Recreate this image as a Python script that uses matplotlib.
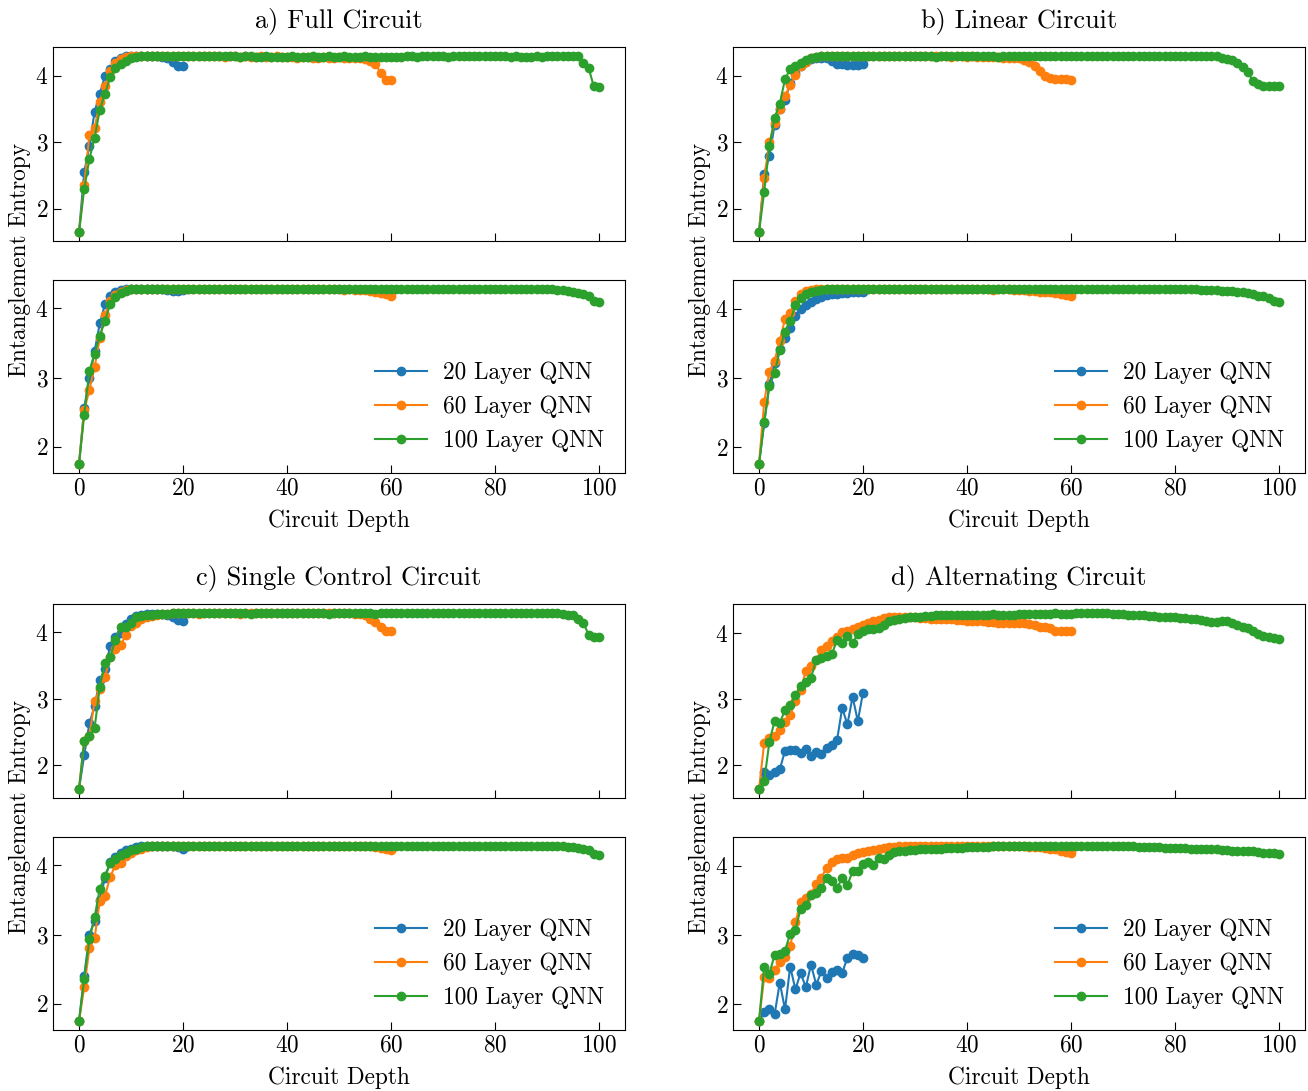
"""Entanglement entropy vs circuit depth for four QNN circuit layouts."""
import matplotlib
matplotlib.use("Agg")
import matplotlib.pyplot as plt
import numpy as np

plt.rcParams["font.family"] = "cmr10"
plt.rcParams["mathtext.fontset"] = "cm"
plt.rcParams["axes.formatter.use_mathtext"] = True
FS = 16.8
FS_TITLE = 19.0

# ── Data: a) Full Circuit ───────────────────────────────────────────────────
FULL_TOP_20 = [1.65, 2.55, 2.95, 3.46, 3.73, 4.00, 4.10, 4.22, 4.27, 4.29,
               4.29, 4.30, 4.29, 4.30, 4.29, 4.29, 4.28, 4.27, 4.21, 4.15, 4.15]
FULL_TOP_60 = [1.65, 2.36, 3.11, 3.21, 3.61, 3.85, 4.07, 4.19, 4.25, 4.28,
               4.29, 4.30, 4.29, 4.30, 4.30, 4.29, 4.30, 4.29, 4.29, 4.30,
               4.29, 4.30, 4.29, 4.29, 4.30, 4.29, 4.30, 4.29, 4.28, 4.29,
               4.29, 4.28, 4.29, 4.28, 4.28, 4.29, 4.28, 4.28, 4.29, 4.28,
               4.28, 4.28, 4.27, 4.28, 4.28, 4.27, 4.27, 4.28, 4.27, 4.27,
               4.28, 4.27, 4.27, 4.26, 4.26, 4.25, 4.22, 4.18, 4.04, 3.94, 3.93]
FULL_TOP_100 = [1.65, 2.30, 2.75, 3.07, 3.49, 3.73, 3.98, 4.11, 4.18, 4.22,
                4.26, 4.28, 4.29, 4.29, 4.30, 4.29, 4.29, 4.30, 4.29, 4.29,
                4.29, 4.29, 4.30, 4.29, 4.29, 4.29, 4.30, 4.29, 4.30, 4.29,
                4.29, 4.28, 4.29, 4.29, 4.28, 4.28, 4.29, 4.28, 4.28, 4.28,
                4.28, 4.29, 4.28, 4.28, 4.28, 4.29, 4.28, 4.28, 4.29, 4.28,
                4.28, 4.29, 4.28, 4.28, 4.28, 4.29, 4.28, 4.28, 4.28, 4.28,
                4.28, 4.28, 4.28, 4.29, 4.29, 4.28, 4.29, 4.29, 4.29, 4.29,
                4.29, 4.28, 4.29, 4.29, 4.29, 4.29, 4.29, 4.30, 4.29, 4.29,
                4.29, 4.29, 4.29, 4.28, 4.29, 4.28, 4.28, 4.28, 4.29, 4.28,
                4.29, 4.29, 4.29, 4.29, 4.29, 4.29, 4.29, 4.19, 4.12, 3.84, 3.83]
FULL_BOT_20 = [1.75, 2.56, 2.99, 3.38, 3.78, 4.06, 4.17, 4.24, 4.26, 4.27,
               4.28, 4.28, 4.27, 4.28, 4.28, 4.27, 4.27, 4.26, 4.25, 4.25, 4.26]
FULL_BOT_60 = [1.75, 2.53, 2.82, 3.15, 3.57, 3.90, 4.10, 4.19, 4.24, 4.26,
               4.27, 4.28, 4.28, 4.28, 4.27, 4.28, 4.28, 4.27, 4.28, 4.28,
               4.27, 4.28, 4.28, 4.28, 4.28, 4.27, 4.28, 4.28, 4.28, 4.27,
               4.28, 4.28, 4.27, 4.28, 4.27, 4.27, 4.28, 4.27, 4.27, 4.28,
               4.27, 4.27, 4.28, 4.27, 4.27, 4.27, 4.27, 4.28, 4.27, 4.27,
               4.27, 4.26, 4.27, 4.26, 4.26, 4.26, 4.25, 4.24, 4.22, 4.20, 4.18]
FULL_BOT_100 = [1.75, 2.46, 3.10, 3.34, 3.60, 3.82, 4.06, 4.16, 4.22, 4.25,
                4.27, 4.27, 4.28, 4.28, 4.28, 4.28, 4.28, 4.28, 4.27, 4.28,
                4.28, 4.28, 4.28, 4.27, 4.28, 4.28, 4.28, 4.28, 4.28, 4.28,
                4.28, 4.28, 4.27, 4.28, 4.28, 4.28, 4.28, 4.28, 4.27, 4.28,
                4.28, 4.28, 4.28, 4.28, 4.28, 4.27, 4.28, 4.28, 4.28, 4.28,
                4.28, 4.28, 4.28, 4.28, 4.27, 4.28, 4.28, 4.28, 4.28, 4.27,
                4.27, 4.28, 4.28, 4.28, 4.28, 4.28, 4.28, 4.28, 4.28, 4.28,
                4.28, 4.28, 4.28, 4.27, 4.28, 4.28, 4.28, 4.28, 4.28, 4.28,
                4.28, 4.28, 4.28, 4.28, 4.28, 4.28, 4.27, 4.28, 4.28, 4.27,
                4.27, 4.27, 4.26, 4.26, 4.25, 4.24, 4.22, 4.20, 4.17, 4.11, 4.09]

# ── Data: b) Linear Circuit ─────────────────────────────────────────────────
LIN_TOP_20 = [1.65, 2.52, 2.80, 3.26, 3.50, 3.63, 3.89, 4.04, 4.15, 4.21,
              4.25, 4.27, 4.27, 4.26, 4.22, 4.18, 4.17, 4.16, 4.16, 4.16, 4.17]
LIN_TOP_60 = [1.65, 2.46, 3.00, 3.29, 3.50, 3.70, 3.86, 4.01, 4.14, 4.21,
              4.26, 4.28, 4.29, 4.30, 4.30, 4.29, 4.30, 4.30, 4.29, 4.30,
              4.29, 4.30, 4.29, 4.30, 4.29, 4.29, 4.30, 4.29, 4.29, 4.30,
              4.29, 4.29, 4.29, 4.30, 4.29, 4.29, 4.29, 4.28, 4.29, 4.29,
              4.28, 4.29, 4.28, 4.28, 4.28, 4.28, 4.28, 4.27, 4.27, 4.27,
              4.27, 4.24, 4.20, 4.15, 4.07, 3.99, 3.96, 3.95, 3.95, 3.95, 3.94]
LIN_TOP_100 = [1.65, 2.26, 2.94, 3.37, 3.58, 3.95, 4.10, 4.15, 4.19, 4.23,
               4.26, 4.28, 4.29, 4.29, 4.30, 4.29, 4.30, 4.29, 4.29, 4.30,
               4.29, 4.29, 4.30, 4.29, 4.29, 4.29, 4.29, 4.30, 4.29, 4.29,
               4.29, 4.29, 4.29, 4.29, 4.28, 4.29, 4.29, 4.29, 4.29, 4.29,
               4.29, 4.29, 4.29, 4.29, 4.29, 4.29, 4.28, 4.29, 4.29, 4.29,
               4.29, 4.29, 4.29, 4.29, 4.29, 4.29, 4.30, 4.29, 4.29, 4.29,
               4.29, 4.29, 4.29, 4.29, 4.29, 4.29, 4.29, 4.29, 4.29, 4.29,
               4.29, 4.29, 4.29, 4.29, 4.29, 4.29, 4.29, 4.29, 4.29, 4.29,
               4.29, 4.30, 4.29, 4.29, 4.29, 4.30, 4.29, 4.29, 4.29, 4.27,
               4.25, 4.23, 4.19, 4.13, 4.06, 3.92, 3.87, 3.85, 3.84, 3.84, 3.84]
LIN_BOT_20 = [1.75, 2.35, 2.91, 3.22, 3.42, 3.58, 3.72, 3.89, 4.00, 4.05,
              4.10, 4.14, 4.17, 4.20, 4.22, 4.22, 4.23, 4.23, 4.24, 4.24, 4.24]
LIN_BOT_60 = [1.75, 2.65, 3.09, 3.25, 3.54, 3.85, 3.94, 4.11, 4.22, 4.26,
              4.27, 4.28, 4.28, 4.28, 4.28, 4.28, 4.29, 4.28, 4.28, 4.28,
              4.28, 4.28, 4.29, 4.28, 4.28, 4.28, 4.28, 4.29, 4.28, 4.28,
              4.28, 4.29, 4.28, 4.28, 4.28, 4.28, 4.28, 4.28, 4.29, 4.28,
              4.28, 4.28, 4.28, 4.28, 4.28, 4.27, 4.28, 4.28, 4.28, 4.27,
              4.27, 4.27, 4.26, 4.26, 4.25, 4.25, 4.24, 4.23, 4.22, 4.20, 4.18]
LIN_BOT_100 = [1.75, 2.36, 2.88, 3.07, 3.40, 3.67, 3.82, 4.05, 4.16, 4.21,
               4.24, 4.26, 4.27, 4.28, 4.28, 4.28, 4.28, 4.28, 4.28, 4.28,
               4.28, 4.28, 4.28, 4.28, 4.28, 4.28, 4.28, 4.29, 4.28, 4.28,
               4.28, 4.28, 4.28, 4.28, 4.28, 4.28, 4.28, 4.28, 4.28, 4.28,
               4.28, 4.28, 4.28, 4.28, 4.28, 4.28, 4.28, 4.28, 4.28, 4.28,
               4.28, 4.28, 4.28, 4.28, 4.28, 4.28, 4.28, 4.28, 4.28, 4.28,
               4.28, 4.28, 4.28, 4.28, 4.28, 4.28, 4.28, 4.28, 4.28, 4.28,
               4.28, 4.28, 4.28, 4.28, 4.28, 4.28, 4.28, 4.28, 4.28, 4.28,
               4.28, 4.28, 4.28, 4.28, 4.28, 4.27, 4.27, 4.27, 4.27, 4.26,
               4.26, 4.26, 4.25, 4.24, 4.23, 4.21, 4.19, 4.18, 4.16, 4.11, 4.10]

# ── Data: c) Single Control Circuit ─────────────────────────────────────────
SC_TOP_20 = [1.64, 2.15, 2.63, 2.89, 3.28, 3.45, 3.79, 3.93, 3.99, 4.12,
             4.20, 4.24, 4.26, 4.27, 4.27, 4.27, 4.27, 4.26, 4.22, 4.18, 4.17]
SC_TOP_60 = [1.64, 2.36, 2.44, 2.96, 3.15, 3.33, 3.63, 3.75, 3.80, 3.96,
             4.09, 4.14, 4.19, 4.22, 4.24, 4.26, 4.27, 4.27, 4.28, 4.28,
             4.28, 4.28, 4.28, 4.27, 4.28, 4.28, 4.28, 4.28, 4.28, 4.28,
             4.28, 4.27, 4.28, 4.28, 4.28, 4.28, 4.28, 4.28, 4.28, 4.28,
             4.28, 4.28, 4.28, 4.29, 4.28, 4.28, 4.28, 4.28, 4.28, 4.28,
             4.28, 4.28, 4.28, 4.27, 4.27, 4.26, 4.20, 4.15, 4.08, 4.01, 4.01]
SC_TOP_100 = [1.64, 2.37, 2.44, 2.56, 3.18, 3.53, 3.63, 3.88, 4.07, 4.08,
              4.13, 4.22, 4.24, 4.25, 4.26, 4.27, 4.27, 4.27, 4.28, 4.28,
              4.28, 4.28, 4.28, 4.28, 4.28, 4.28, 4.28, 4.28, 4.28, 4.28,
              4.28, 4.28, 4.28, 4.27, 4.28, 4.28, 4.28, 4.28, 4.28, 4.28,
              4.28, 4.28, 4.28, 4.28, 4.28, 4.28, 4.28, 4.28, 4.27, 4.28,
              4.28, 4.28, 4.28, 4.28, 4.28, 4.28, 4.28, 4.27, 4.28, 4.28,
              4.28, 4.28, 4.28, 4.28, 4.28, 4.28, 4.28, 4.28, 4.28, 4.28,
              4.28, 4.28, 4.28, 4.28, 4.28, 4.28, 4.28, 4.28, 4.28, 4.28,
              4.28, 4.28, 4.28, 4.28, 4.28, 4.28, 4.28, 4.28, 4.28, 4.28,
              4.28, 4.28, 4.28, 4.27, 4.26, 4.25, 4.20, 4.14, 3.96, 3.93, 3.93]
SC_BOT_20 = [1.75, 2.40, 3.00, 3.20, 3.50, 3.82, 4.04, 4.12, 4.18, 4.22,
             4.24, 4.26, 4.27, 4.27, 4.27, 4.28, 4.27, 4.27, 4.27, 4.26, 4.24]
SC_BOT_60 = [1.75, 2.24, 2.80, 2.95, 3.48, 3.56, 3.83, 4.00, 4.03, 4.13,
             4.18, 4.22, 4.24, 4.26, 4.27, 4.27, 4.28, 4.28, 4.28, 4.28,
             4.28, 4.28, 4.28, 4.28, 4.28, 4.28, 4.28, 4.28, 4.28, 4.28,
             4.28, 4.28, 4.28, 4.28, 4.28, 4.28, 4.28, 4.28, 4.28, 4.28,
             4.28, 4.28, 4.28, 4.28, 4.28, 4.28, 4.28, 4.28, 4.28, 4.28,
             4.28, 4.28, 4.28, 4.27, 4.28, 4.27, 4.27, 4.26, 4.25, 4.24, 4.22]
SC_BOT_100 = [1.75, 2.36, 2.93, 3.25, 3.66, 3.85, 4.03, 4.09, 4.14, 4.18,
              4.22, 4.24, 4.26, 4.27, 4.27, 4.28, 4.28, 4.28, 4.28, 4.28,
              4.28, 4.28, 4.28, 4.28, 4.28, 4.28, 4.28, 4.28, 4.28, 4.28,
              4.28, 4.28, 4.28, 4.28, 4.28, 4.28, 4.28, 4.28, 4.28, 4.28,
              4.28, 4.28, 4.28, 4.28, 4.28, 4.28, 4.28, 4.28, 4.28, 4.28,
              4.28, 4.28, 4.28, 4.28, 4.28, 4.28, 4.28, 4.28, 4.28, 4.28,
              4.28, 4.28, 4.28, 4.28, 4.28, 4.28, 4.28, 4.28, 4.28, 4.28,
              4.28, 4.28, 4.28, 4.28, 4.28, 4.28, 4.28, 4.28, 4.28, 4.28,
              4.28, 4.28, 4.28, 4.28, 4.28, 4.28, 4.28, 4.28, 4.28, 4.28,
              4.27, 4.27, 4.27, 4.27, 4.26, 4.26, 4.25, 4.24, 4.22, 4.16, 4.15]

# ── Data: d) Alternating Circuit ────────────────────────────────────────────
ALT_TOP_20 = [1.64, 1.90, 1.85, 1.90, 1.94, 2.22, 2.24, 2.24, 2.19, 2.25,
              2.14, 2.21, 2.18, 2.27, 2.31, 2.38, 2.87, 2.62, 3.04, 2.67, 3.10]
ALT_TOP_60 = [1.64, 2.34, 2.42, 2.44, 2.53, 2.66, 2.76, 2.98, 3.14, 3.43,
              3.51, 3.60, 3.74, 3.81, 3.89, 3.94, 4.02, 4.03, 4.07, 4.09,
              4.13, 4.15, 4.19, 4.20, 4.23, 4.25, 4.25, 4.25, 4.24, 4.24,
              4.24, 4.23, 4.23, 4.22, 4.22, 4.22, 4.21, 4.21, 4.20, 4.20,
              4.19, 4.19, 4.18, 4.18, 4.17, 4.17, 4.16, 4.16, 4.16, 4.15,
              4.15, 4.15, 4.14, 4.13, 4.10, 4.10, 4.08, 4.04, 4.03, 4.03, 4.03]
ALT_TOP_100 = [1.64, 1.76, 2.36, 2.67, 2.64, 2.84, 2.91, 3.06, 3.20, 3.26,
               3.33, 3.59, 3.63, 3.65, 3.68, 3.90, 3.86, 3.96, 3.85, 3.99,
               4.03, 4.06, 4.07, 4.08, 4.13, 4.18, 4.20, 4.22, 4.23, 4.24,
               4.25, 4.25, 4.26, 4.26, 4.27, 4.27, 4.27, 4.27, 4.28, 4.28,
               4.28, 4.28, 4.28, 4.28, 4.28, 4.29, 4.28, 4.28, 4.28, 4.28,
               4.29, 4.29, 4.29, 4.29, 4.29, 4.29, 4.29, 4.30, 4.29, 4.29,
               4.29, 4.30, 4.30, 4.30, 4.30, 4.31, 4.30, 4.30, 4.29, 4.29,
               4.29, 4.28, 4.28, 4.27, 4.27, 4.26, 4.26, 4.25, 4.25, 4.24,
               4.24, 4.23, 4.23, 4.22, 4.21, 4.20, 4.18, 4.17, 4.17, 4.18,
               4.18, 4.15, 4.12, 4.10, 4.08, 4.03, 3.99, 3.96, 3.94, 3.93, 3.91]
ALT_BOT_20 = [1.75, 1.89, 1.92, 1.85, 2.31, 1.92, 2.54, 2.21, 2.45, 2.24,
              2.57, 2.28, 2.47, 2.38, 2.46, 2.49, 2.45, 2.67, 2.73, 2.71, 2.67]
ALT_BOT_60 = [1.75, 2.39, 2.38, 2.49, 2.61, 2.68, 2.84, 3.18, 3.48, 3.54,
              3.59, 3.74, 3.83, 3.97, 4.05, 4.10, 4.12, 4.12, 4.15, 4.18,
              4.20, 4.21, 4.23, 4.25, 4.26, 4.27, 4.27, 4.28, 4.28, 4.28,
              4.28, 4.28, 4.28, 4.29, 4.28, 4.28, 4.28, 4.28, 4.28, 4.28,
              4.28, 4.29, 4.28, 4.28, 4.28, 4.28, 4.28, 4.28, 4.28, 4.28,
              4.28, 4.28, 4.27, 4.27, 4.27, 4.26, 4.25, 4.24, 4.22, 4.20, 4.19]
ALT_BOT_100 = [1.75, 2.54, 2.44, 2.71, 2.73, 2.77, 3.02, 3.07, 3.38, 3.43,
               3.58, 3.61, 3.68, 3.82, 3.78, 3.68, 3.82, 3.72, 3.92, 3.93,
               4.02, 4.05, 4.01, 4.11, 4.10, 4.16, 4.20, 4.21, 4.22, 4.23,
               4.23, 4.24, 4.24, 4.25, 4.25, 4.25, 4.26, 4.26, 4.26, 4.26,
               4.27, 4.27, 4.27, 4.27, 4.27, 4.28, 4.28, 4.28, 4.28, 4.28,
               4.28, 4.28, 4.28, 4.28, 4.28, 4.28, 4.28, 4.28, 4.28, 4.28,
               4.28, 4.28, 4.28, 4.28, 4.28, 4.28, 4.28, 4.29, 4.28, 4.28,
               4.28, 4.28, 4.28, 4.27, 4.27, 4.27, 4.27, 4.27, 4.26, 4.26,
               4.26, 4.26, 4.26, 4.25, 4.25, 4.25, 4.24, 4.24, 4.24, 4.23,
               4.23, 4.22, 4.22, 4.22, 4.21, 4.21, 4.20, 4.19, 4.18, 4.18, 4.17]

LABELS = ["20 Layer QNN", "60 Layer QNN", "100 Layer QNN"]
COLORS = ["#1f77b4", "#ff7f0e", "#2ca02c"]
X_TICKS = [0, 20, 40, 60, 80, 100]
Y_TICKS = [2, 3, 4]

# ── Canvas ──────────────────────────────────────────────────────────────────
W, H = 1308, 1091
fig = plt.figure(figsize=(W / 100, H / 100), dpi=100)
fig.patch.set_facecolor("white")


def px_rect(left, top, right, bottom):
    """Axes rectangle from pixel edges."""
    return [left / W, 1 - bottom / H, (right - left) / W, (bottom - top) / H]


def style(ax, show_x):
    ax.set_xticks(X_TICKS)
    ax.set_yticks(Y_TICKS)
    ax.tick_params(direction="in", length=5.5, width=0.8, labelsize=FS,
                   labelbottom=show_x)
    for sp in ax.spines.values():
        sp.set_linewidth(0.8)


def panel(left, top, title, top_series, bot_series):
    right = left + 572
    ax_t = fig.add_axes(px_rect(left, top, right, top + 194))
    ax_b = fig.add_axes(px_rect(left, top + 233, right, top + 426),
                        sharex=ax_t)
    for ax, series in ((ax_t, top_series), (ax_b, bot_series)):
        for vals, c, lab in zip(series, COLORS, LABELS):
            ax.plot(np.arange(len(vals)), vals, "-o", color=c, ms=6,
                    lw=1.5, label=lab)
    style(ax_t, False)
    style(ax_b, True)
    ax_b.legend(loc="lower right", frameon=False, fontsize=FS,
                handlelength=2.2, handletextpad=0.7)
    cx = (left + right) / 2
    fig.text(cx / W, 1 - (top - 26) / H, title, ha="center", va="center",
             fontsize=FS_TITLE)
    fig.text(cx / W, 1 - (top + 474) / H, "Circuit Depth", ha="center",
             va="center", fontsize=FS)
    # shared y label centred on the pair of axes
    fig.text((left - 33) / W, 1 - (top + 213) / H, "Entanglement Entropy",
             ha="center", va="center", rotation=90, fontsize=FS)


panel(53, 47, "a) Full Circuit",
      (FULL_TOP_20, FULL_TOP_60, FULL_TOP_100),
      (FULL_BOT_20, FULL_BOT_60, FULL_BOT_100))
panel(733, 47, "b) Linear Circuit",
      (LIN_TOP_20, LIN_TOP_60, LIN_TOP_100),
      (LIN_BOT_20, LIN_BOT_60, LIN_BOT_100))
panel(53, 604, "c) Single Control Circuit",
      (SC_TOP_20, SC_TOP_60, SC_TOP_100),
      (SC_BOT_20, SC_BOT_60, SC_BOT_100))
panel(733, 604, "d) Alternating Circuit",
      (ALT_TOP_20, ALT_TOP_60, ALT_TOP_100),
      (ALT_BOT_20, ALT_BOT_60, ALT_BOT_100))

fig.savefig("out.png", dpi=100, facecolor="white")
